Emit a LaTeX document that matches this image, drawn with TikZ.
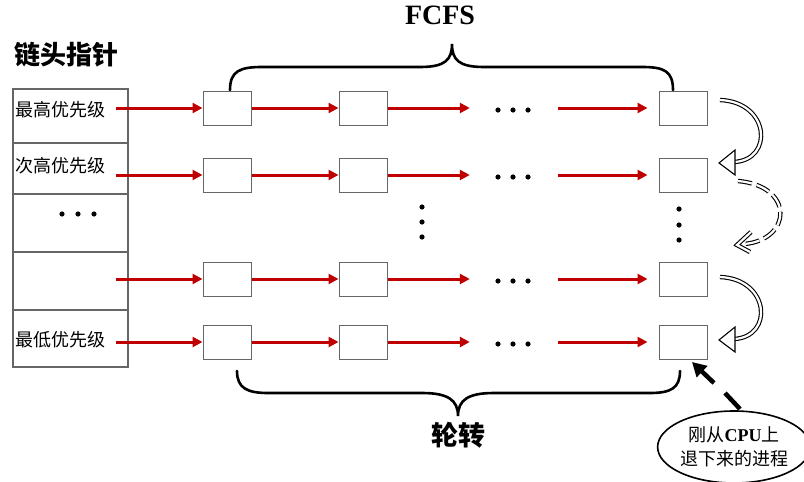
\documentclass[tikz,border=0pt]{standalone}
\usepackage{fontspec}
\setmainfont{Liberation Serif}
\newfontfamily\cjk{Noto Sans CJK SC}
\usetikzlibrary{arrows.meta,shapes.geometric}
\definecolor{arrred}{HTML}{C00000}
\definecolor{boxgray}{HTML}{666666}
\begin{document}
\begin{tikzpicture}[x=1pt,y=-1pt,
  qbox/.style={draw=boxgray, line width=1pt, minimum width=48pt, minimum height=34pt, inner sep=0pt, fill=white},
  tcell/.style={draw=boxgray, line width=1.2pt, minimum width=115pt, inner sep=0pt},
  lbl/.style={anchor=west, inner sep=0pt, font=\cjk\fontsize{18}{20}\selectfont},
  rarrow/.style={draw=arrred, line width=3pt, -{Triangle[length=10pt,width=10pt]}},
  hdots/.style={minimum width=88pt, minimum height=6pt, inner sep=0pt},
  brace/.style={line width=2.6pt, line cap=round},
  dbl/.style={line width=1.1pt, double=white, double distance=2.2pt},
  dot/.style={fill=black}
]
\useasboundingbox (0,0) rectangle (804,482);

% title labels
\node[font=\cjk\bfseries\fontsize{26}{28}\selectfont] (head) at (67,55) {链头指针};
\node[font=\bfseries\fontsize{28}{30}\selectfont] (fcfs) at (440,15) {FCFS};
\node[font=\cjk\bfseries\fontsize{27}{28}\selectfont] (rr) at (458,435) {轮转};

% table
\node[tcell, minimum height=54pt] (t1) at (70.5,116) {};
\node[tcell, minimum height=51pt] (t2) at (70.5,168.5) {};
\node[tcell, minimum height=58pt] (t3) at (70.5,223) {};
\node[tcell, minimum height=58pt] (t4) at (70.5,281) {};
\node[tcell, minimum height=57pt] (t5) at (70.5,338.5) {};
\node[lbl] (l1) at (15,110) {最高优先级};
\node[lbl] (l2) at (15,166) {次高优先级};
\node[lbl] (l5) at (15,340) {最低优先级};
\foreach \x in {62,78,94} \fill[dot] (\x,214) circle (2.6pt);

% queue boxes
\foreach \r/\y in {1/108,2/175,3/279,4/342} {
  \node[qbox] (b\r1) at (227,\y) {};
  \node[qbox] (b\r2) at (363,\y) {};
  \node[qbox] (b\r4) at (683,\y) {};
  \node[hdots] (h\r) at (514,\y) {};
  \foreach \x in {498,513,528} \fill[dot] (\x,\y+2) circle (2.6pt);
}
\coordinate (s1) at (116,108);
\coordinate (s2) at (116,175);
\coordinate (s3) at (116,279);
\coordinate (s4) at (116,342);

% red arrows
\foreach \r in {1,2,3,4} {
  \draw[rarrow] (s\r) -- (b\r1.west);
  \draw[rarrow] (b\r1.east) -- (b\r2.west);
  \draw[rarrow] (b\r2.east) -- (h\r.west);
  \draw[rarrow, shorten >=11pt] (h\r.east) -- (b\r4.west);
}

% vertical dots
\foreach \y in {207,222,237} \fill[dot] (422,\y) circle (2.6pt);
\foreach \y in {209,225,240} \fill[dot] (679,\y) circle (2.6pt);

% top brace
\draw[brace] (230,90) .. controls (230,71) and (240,67) .. (262,67) -- (420,67)
  .. controls (445,67) and (452,60) .. (452,44)
  .. controls (452,60) and (459,67) .. (484,67) -- (642,67)
  .. controls (664,67) and (673,71) .. (673,90);
% bottom brace
\draw[brace] (237,371) .. controls (237,388) and (247,393) .. (268,393) -- (422,393)
  .. controls (448,393) and (458,400) .. (458,416)
  .. controls (458,400) and (468,393) .. (494,393) -- (650,393)
  .. controls (671,393) and (680,388) .. (680,371);

% curved double arrows
\draw[dbl] (720,100) .. controls (770,102) and (774,160) .. (734,162);
\filldraw[fill=white, line width=1.1pt, line join=miter] (719,163) -- (735,150) -- (735,175) -- cycle;
\draw[dbl] (720,277) .. controls (770,279) and (774,337) .. (734,339);
\filldraw[fill=white, line width=1.1pt, line join=miter] (719,340) -- (735,327) -- (735,352) -- cycle;
\draw[dbl, dash pattern=on 14pt off 5pt] (738,181) .. controls (795,186) and (792,240) .. (744,244);
\draw[dbl] (751,232) -- (737,245) -- (750,252);

% ellipse
\node[ellipse, draw, line width=1.6pt, minimum width=118pt, minimum height=72pt, inner sep=0pt,
  align=center, font=\cjk\fontsize{18}{24}\selectfont] (cpu) at (734,447)
  {刚从{\rmfamily\bfseries CPU}上\\退下来的进程};
\coordinate (a1) at (740,409);
\coordinate (a2) at (725,393);
\coordinate (a3) at (714,383);
\coordinate (tipc) at (692,362);
\draw[line width=4.5pt] (a1) -- (a2);
\draw[line width=4.5pt, -{Triangle[length=14pt,width=15pt]}] (a3) -- (tipc);
\end{tikzpicture}
\end{document}
